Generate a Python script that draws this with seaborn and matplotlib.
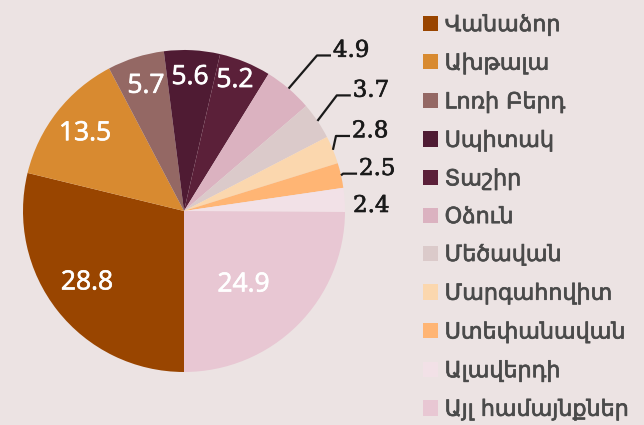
import numpy as np
import matplotlib
matplotlib.use("Agg")
import matplotlib.pyplot as plt
import matplotlib.patheffects as pe
import seaborn as sns

# ---- data ----
towns = ["Վանաձոր", "Ախթալա", "Լոռի Բերդ", "Սպիտակ", "Տաշիր", "Օձուն",
         "Մեծավան", "Մարգահովիտ", "Ստեփանավան", "Ալավերդի", "Այլ համայնքներ"]
shares = [28.8, 13.5, 5.7, 5.6, 5.2, 4.9, 3.7, 2.8, 2.5, 2.4, 24.9]
value_labels = ["28.8", "13.5", "5.7", "5.6", "5.2", "4.9", "3.7", "2.8", "2.5", "2.4", "24.9"]
colors = ["#994500", "#D88A30", "#946864", "#4F1B33", "#5B2039", "#DBB2C0",
          "#DBCACA", "#FBD7AE", "#FFB574", "#F2E1E7", "#E8C7D3"]

BG = "#ECE3E3"
sns.set_theme(style="white", rc={"figure.facecolor": BG, "axes.facecolor": BG})
plt.rcParams["font.family"] = ["DejaVu Sans"]
palette = sns.color_palette(colors)

W, H = 644, 425
fig = plt.figure(figsize=(W / 100, H / 100), dpi=100)
fig.patch.set_facecolor(BG)

cx, cy, R = 184, 211, 161
ax = fig.add_axes([(cx - R) / W, (H - cy - R) / H, 2 * R / W, 2 * R / H])
wedges, _ = ax.pie(shares, colors=palette, startangle=270, counterclock=False,
                   radius=1, wedgeprops=dict(linewidth=0, antialiased=True))
ax.set_xlim(-1, 1)
ax.set_ylim(-1, 1)
ax.set_aspect("equal")
ax.axis("off")

# inside labels: (radius fraction, angle offset deg) -- layout only
inside = {0: (0.75, -1.6), 1: (0.78, 0.0), 2: (0.81, -0.5), 3: (0.83, 0.3),
          4: (0.87, 1.0), 10: (0.59, -6.0)}
# outside labels: text anchor (x, baseline y), whether to draw leader
outside = {5: (0.925, 0.958, True), 6: (1.048, 0.710, True),
           7: (1.043, 0.458, True), 8: (1.087, 0.224, True),
           9: (1.050, -0.006, False)}

for i, w in enumerate(wedges):
    mid = np.deg2rad((w.theta1 + w.theta2) / 2)
    if i in inside:
        r, off = inside[i]
        a = mid + np.deg2rad(off)
        ax.text(r * np.cos(a), r * np.sin(a), value_labels[i], color="white",
                ha="center", va="center", fontsize=19, family=["Open Sans", "DejaVu Sans"],
                path_effects=[pe.withStroke(linewidth=0.5, foreground="white")])
    elif i in outside:
        tx, ty, lead = outside[i]
        ax.text(tx, ty, value_labels[i], color="#1A1A1A", ha="left", va="baseline",
                fontsize=16.5, family=["DejaVu Serif"],
                path_effects=[pe.withStroke(linewidth=0.5, foreground="#1A1A1A")])
        if lead:
            sx, sy = np.cos(mid), np.sin(mid)
            ly = ty + 0.008
            ex = tx - 0.012
            kx = ex - 0.087
            if kx < sx:
                kx = sx
            ax.plot([sx, kx, ex], [sy, ly, ly], color="#1A1A1A", lw=1.6,
                    clip_on=False, solid_capstyle="butt")

fs = 16
fpx = fs * 100 / 72
leg = fig.legend(wedges, towns, loc="upper left",
                 bbox_to_anchor=(423 / W, 1 - 14 / H), frameon=False,
                 fontsize=fs, labelcolor="#4A4A4A",
                 handlelength=15 / fpx, handleheight=15 / fpx,
                 handletextpad=0.3, labelspacing=0.76, borderpad=0, borderaxespad=0)
for t in leg.get_texts():
    t.set_path_effects([pe.withStroke(linewidth=0.5, foreground="#4A4A4A")])

fig.savefig("out.png", dpi=100, facecolor=BG)
